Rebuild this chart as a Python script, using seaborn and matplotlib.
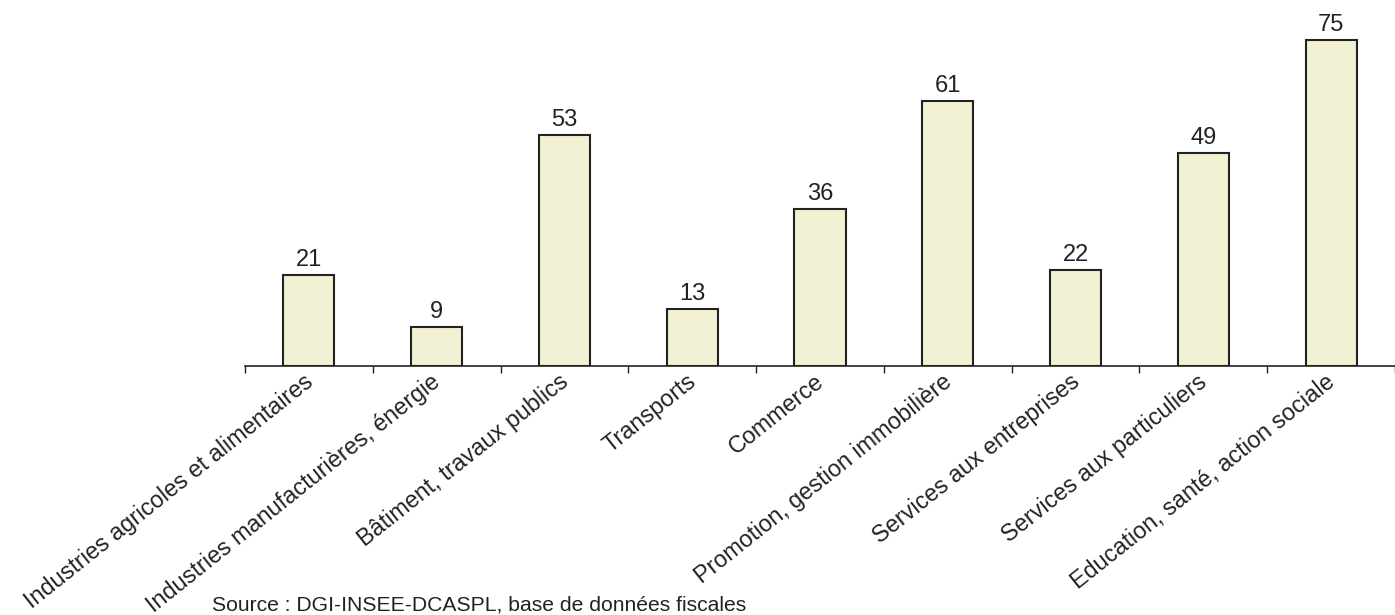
import matplotlib
matplotlib.use("Agg")
import matplotlib.pyplot as plt
import matplotlib.transforms as mtransforms
import seaborn as sns
import pandas as pd
import numpy as np

# -------------------------------------
# Data
# -------------------------------------
categories = [
    "Industries agricoles et alimentaires",
    "Industries manufacturières, énergie",
    "Bâtiment, travaux publics",
    "Transports",
    "Commerce",
    "Promotion, gestion immobilière",
    "Services aux entreprises",
    "Services aux particuliers",
    "Education, santé, action sociale",
]
values = [21, 9, 53, 13, 36, 61, 22, 49, 75]
source_text = "Source : DGI-INSEE-DCASPL, base de données fiscales"

df = pd.DataFrame({"secteur": categories, "valeur": values})

sns.set_style("white")
plt.rcParams["font.family"] = ["Liberation Sans", "DejaVu Sans"]

fig = plt.figure(figsize=(13.95, 6.15), dpi=100)
ax = fig.add_axes([0.1756, 0.405, 0.8244, 0.566])

sns.barplot(data=df, x="secteur", y="valeur", color="#F3F1D3",
            edgecolor="#222222", linewidth=1.5, width=0.40, saturation=1, ax=ax)

for i, v in enumerate(values):
    ax.text(i, v + 0.9, str(v), ha="center", va="bottom", fontsize=17, color="#222222")

ax.set_xlim(-0.5, 8.41)
ax.set_ylim(0, 80)
ax.set_xlabel("")
ax.set_ylabel("")
ax.set_yticks([])
for s in ["top", "right", "left"]:
    ax.spines[s].set_visible(False)
ax.spines["bottom"].set_color("#222222")
ax.spines["bottom"].set_linewidth(1.2)

# labels at bar centres, tick marks between categories
ax.set_xticks(range(len(categories)))
ax.set_xticklabels(categories, rotation=38.5, ha="right", rotation_mode="anchor",
                   fontsize=16.8, color="#222222")
ax.tick_params(axis="x", which="major", bottom=True, length=0, pad=3)
# nudge labels a few pixels left, as in the original
shift = mtransforms.ScaledTranslation(-6 / 100, 0, fig.dpi_scale_trans)
for lbl in ax.get_xticklabels():
    lbl.set_transform(lbl.get_transform() + shift)
ax.set_xticks(np.arange(-0.5, len(categories), 1.0), minor=True)
ax.tick_params(axis="x", which="minor", bottom=True, length=5, width=1.0,
               color="#222222", direction="out")

fig.text(212 / 1395, 1 - 605 / 615, source_text, ha="left", va="center",
         fontsize=15.2, color="#222222")

fig.savefig("out.png", dpi=100)
